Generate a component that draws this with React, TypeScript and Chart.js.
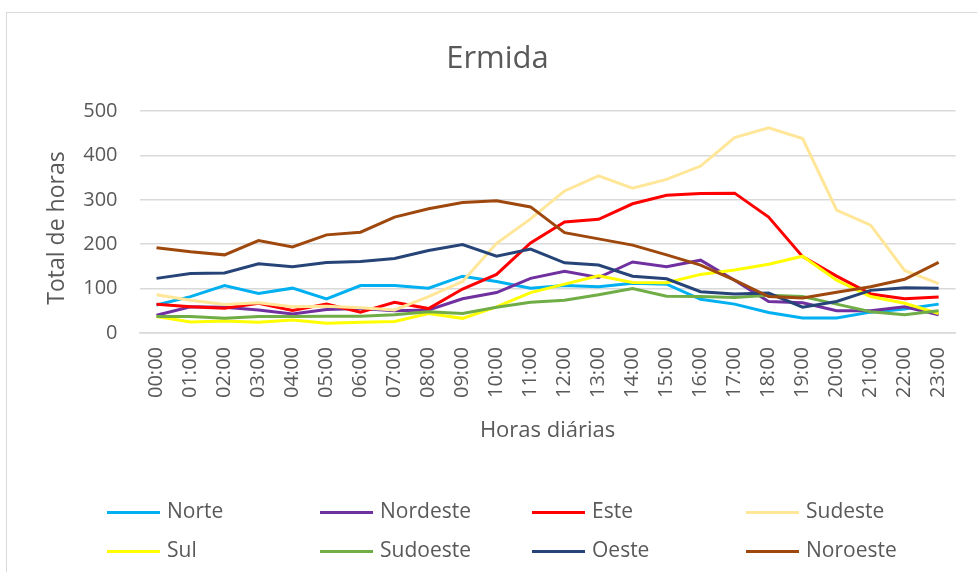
import React, { useEffect, useRef } from "react";
import { Chart, registerables } from "chart.js";

Chart.register(...registerables);

const hours = [
  "00:00", "01:00", "02:00", "03:00", "04:00", "05:00", "06:00", "07:00",
  "08:00", "09:00", "10:00", "11:00", "12:00", "13:00", "14:00", "15:00",
  "16:00", "17:00", "18:00", "19:00", "20:00", "21:00", "22:00", "23:00",
];

const norte = [63, 82, 107, 89, 101, 77, 107, 107, 101, 128, 116, 101, 107, 104, 112, 110, 76, 65, 46, 34, 34, 47, 54, 65];
const nordeste = [40, 59, 58, 52, 43, 53, 55, 50, 52, 77, 91, 123, 139, 125, 160, 149, 164, 119, 71, 68, 50, 50, 59, 41];
const este = [65, 59, 56, 67, 51, 65, 47, 69, 55, 99, 132, 203, 250, 256, 291, 310, 314, 315, 261, 172, 128, 88, 77, 81];
const sudeste = [86, 74, 64, 68, 59, 60, 57, 52, 82, 116, 202, 257, 320, 354, 326, 346, 376, 440, 462, 438, 277, 243, 141, 111];
const sul = [37, 25, 27, 24, 29, 22, 24, 26, 44, 33, 59, 91, 110, 129, 114, 113, 132, 142, 155, 173, 119, 82, 67, 44];
const sudoeste = [37, 37, 33, 37, 37, 38, 38, 41, 48, 44, 58, 69, 74, 86, 100, 83, 82, 80, 85, 82, 65, 48, 41, 50];
const oeste = [123, 134, 135, 156, 149, 159, 161, 168, 186, 199, 173, 189, 158, 153, 128, 122, 93, 88, 90, 58, 71, 96, 102, 101];
const noroeste = [192, 183, 176, 208, 194, 221, 227, 261, 280, 294, 298, 284, 226, 212, 198, 176, 153, 119, 82, 79, 92, 104, 121, 159];

const seriesNames = ["Norte", "Nordeste", "Este", "Sudeste", "Sul", "Sudoeste", "Oeste", "Noroeste"];
const seriesData = [norte, nordeste, este, sudeste, sul, sudoeste, oeste, noroeste];
const seriesColors = ["#00B0F0", "#7030A0", "#FF0000", "#FFE699", "#FFFF00", "#70AD47", "#264478", "#9E480E"];

const chartTitle = "Ermida";
const yTitle = "Total de horas";
const xTitle = "Horas diárias";

const FONT = "'Open Sans', 'Noto Sans', sans-serif";
const TEXT = "#595959";

const decorPlugin = {
  id: "decor",
  beforeDraw(chart: any) {
    const ctx = chart.ctx;
    ctx.save();
    ctx.strokeStyle = "#d9d9d9";
    ctx.lineWidth = 1;
    ctx.strokeRect(6.5, 12.5, 1000, 600);
    ctx.restore();
  },
  afterDraw(chart: any) {
    const ctx = chart.ctx;
    const area = chart.chartArea;
    ctx.save();
    ctx.fillStyle = TEXT;
    // title
    ctx.font = `31px ${FONT}`;
    ctx.textAlign = "center";
    ctx.textBaseline = "alphabetic";
    ctx.fillText(chartTitle, 497.5, 68);
    // x title
    ctx.font = `22px ${FONT}`;
    ctx.fillText(xTitle, (area.left + area.right) / 2, 437);
    // y title
    ctx.save();
    ctx.font = `23px ${FONT}`;
    ctx.translate(64, 228);
    ctx.rotate(-Math.PI / 2);
    ctx.fillText(yTitle, 0, 0);
    ctx.restore();
    // legend
    const cols = [107, 320, 532, 746];
    const rows = [512.5, 551.5];
    ctx.font = `21px ${FONT}`;
    ctx.textAlign = "left";
    ctx.textBaseline = "middle";
    seriesNames.forEach((name, i) => {
      const x = cols[i % 4];
      const y = rows[Math.floor(i / 4)];
      ctx.strokeStyle = seriesColors[i];
      ctx.lineWidth = 3;
      ctx.beginPath();
      ctx.moveTo(x, y);
      ctx.lineTo(x + 53, y);
      ctx.stroke();
      ctx.fillStyle = TEXT;
      ctx.fillText(name, x + 60, y);
    });
    ctx.restore();
  },
};

export default function App() {
  const ref = useRef<HTMLCanvasElement | null>(null);

  useEffect(() => {
    document.body.style.margin = "0";
    const canvas = ref.current;
    if (!canvas) return;
    const chart = new Chart(canvas, {
      type: "line",
      data: {
        labels: hours,
        datasets: seriesNames.map((name, i) => ({
          label: name,
          data: seriesData[i],
          borderColor: seriesColors[i],
          backgroundColor: seriesColors[i],
          borderWidth: 3,
          pointRadius: 0,
          tension: 0,
          fill: false,
          order: seriesNames.length - i,
        })),
      },
      options: {
        responsive: false,
        animation: false,
        layout: { padding: { left: 0, right: 17, top: 111, bottom: 129 } },
        plugins: {
          legend: { display: false },
          title: { display: false },
          tooltip: { enabled: false },
        },
        scales: {
          x: {
            offset: true,
            grid: { display: false, drawTicks: false },
            border: { display: true, color: "#d9d9d9", width: 1.5 },
            ticks: {
              color: TEXT,
              font: { family: FONT, size: 20 },
              minRotation: 90,
              maxRotation: 90,
              autoSkip: false,
              padding: 14,
            },
            afterFit: (s: any) => {
              s.height = 110;
            },
          },
          y: {
            min: 0,
            max: 500,
            grid: { color: "#d9d9d9", lineWidth: 1.5, drawTicks: false },
            border: { display: false },
            ticks: {
              stepSize: 100,
              color: TEXT,
              font: { family: FONT, size: 20 },
              padding: 22,
            },
            afterFit: (s: any) => {
              s.width = 139.5;
            },
          },
        },
      },
      plugins: [decorPlugin],
    });
    return () => chart.destroy();
  }, []);

  return (
    <div style={{ width: 977, height: 572, position: "relative" }}>
      <canvas ref={ref} width={977} height={572} style={{ display: "block" }} />
    </div>
  );
}
